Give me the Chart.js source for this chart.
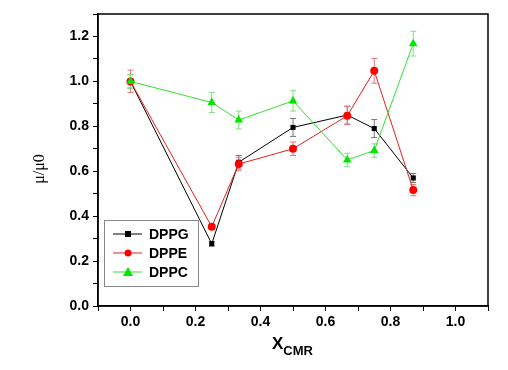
<!DOCTYPE html>
<html>
<head>
<meta charset="utf-8">
<script src="https://cdn.jsdelivr.net/npm/chart.js@4.4.1/dist/chart.umd.min.js"></script>
<style>
  html, body { margin: 0; padding: 0; background: #fff; }
  #wrap { width: 508px; height: 370px; }
</style>
</head>
<body>
<div id="wrap"><canvas id="chart" width="508" height="370"></canvas></div>
<script>
// x_CMR values
var xCmr = [0, 0.25, 0.333, 0.5, 0.667, 0.75, 0.87];

// mu/mu0 per lipid
var dppg = [1.0, 0.277, 0.64, 0.795, 0.85, 0.79, 0.57];
var dppe = [1.0, 0.353, 0.632, 0.70, 0.847, 1.047, 0.516];
var dppc = [1.0, 0.906, 0.828, 0.913, 0.65, 0.692, 1.168];

// error bars
var dppgErr = [0.03, 0.01, 0.03, 0.04, 0.04, 0.04, 0.02];
var dppeErr = [0.05, 0.01, 0.03, 0.03, 0.04, 0.055, 0.025];
var dppcErr = [0.03, 0.045, 0.04, 0.045, 0.03, 0.03, 0.055];

var seriesNames = ['DPPG', 'DPPE', 'DPPC'];

function pts(ys) {
    return xCmr.map(function(x, i) { return {x: x, y: ys[i]}; });
}

var errBars = {
    id: 'errBars',
    beforeDatasetsDraw: function(chart) {
        var ctx = chart.ctx;
        var xs = chart.scales.x, ys = chart.scales.y;
        chart.data.datasets.forEach(function(ds) {
            ctx.save();
            ctx.strokeStyle = ds.errColor;
            ctx.lineWidth = 1;
            ds.data.forEach(function(p, i) {
                var px = xs.getPixelForValue(p.x);
                var top = ys.getPixelForValue(p.y + ds.err[i]);
                var bot = ys.getPixelForValue(p.y - ds.err[i]);
                ctx.beginPath();
                ctx.moveTo(px, top); ctx.lineTo(px, bot);
                ctx.moveTo(px - 3, top); ctx.lineTo(px + 3, top);
                ctx.moveTo(px - 3, bot); ctx.lineTo(px + 3, bot);
                ctx.stroke();
            });
            ctx.restore();
        });
    }
};

var decor = {
    id: 'decor',
    afterDraw: function(chart) {
        var ctx = chart.ctx;
        var a = chart.chartArea;
        ctx.save();
        // frame
        ctx.strokeStyle = '#000';
        ctx.lineWidth = 1.5;
        ctx.strokeRect(a.left, a.top, a.right - a.left, a.bottom - a.top);

        // legend
        var lx = 104, ly = 220, lw = 94, lh = 66;
        ctx.fillStyle = '#fff';
        ctx.fillRect(lx, ly, lw, lh);
        ctx.strokeStyle = '#888';
        ctx.lineWidth = 1;
        ctx.strokeRect(lx + 0.5, ly + 0.5, lw, lh);
        ctx.font = 'bold 14px "Liberation Sans", Arial, sans-serif';
        ctx.textBaseline = 'middle';
        chart.data.datasets.forEach(function(ds, i) {
            var cy = ly + 14 + i * 19;
            ctx.strokeStyle = ds.borderColor;
            ctx.lineWidth = 1;
            ctx.beginPath();
            ctx.moveTo(lx + 9, cy); ctx.lineTo(lx + 38, cy);
            ctx.stroke();
            ctx.fillStyle = ds.pointBackgroundColor;
            var mx = lx + 24;
            if (ds.pointStyle === 'rect') {
                ctx.fillRect(mx - 3, cy - 3, 6, 6);
            } else if (ds.pointStyle === 'circle') {
                ctx.beginPath(); ctx.arc(mx, cy, 3.5, 0, Math.PI * 2); ctx.fill();
            } else {
                ctx.beginPath();
                ctx.moveTo(mx, cy - 5); ctx.lineTo(mx + 5, cy + 4); ctx.lineTo(mx - 5, cy + 4);
                ctx.closePath(); ctx.fill();
            }
            ctx.fillStyle = '#000';
            ctx.textAlign = 'left';
            ctx.fillText(ds.label, lx + 45, cy + 1);
        });

        // y title
        ctx.save();
        ctx.translate(40, 169);
        ctx.rotate(-Math.PI / 2);
        ctx.font = '16px "Liberation Serif", "Times New Roman", serif';
        ctx.textAlign = 'center';
        ctx.textBaseline = 'middle';
        ctx.fillStyle = '#000';
        ctx.fillText('\u03bc/\u03bc0', 0, 0);
        ctx.restore();

        // x title
        ctx.fillStyle = '#000';
        ctx.textAlign = 'left';
        ctx.textBaseline = 'alphabetic';
        ctx.font = 'bold 17px "Liberation Sans", Arial, sans-serif';
        ctx.fillText('X', 272, 349);
        var w = ctx.measureText('X').width;
        ctx.font = 'bold 13px "Liberation Sans", Arial, sans-serif';
        ctx.fillText('CMR', 272 + w, 355);
        ctx.restore();
    }
};

function tickLabel(v) {
    return Math.round(v * 10) % 2 === 0 ? v.toFixed(1) : '';
}

new Chart(document.getElementById('chart'), {
    type: 'scatter',
    data: {
        datasets: [{
            label: seriesNames[0],
            data: pts(dppg),
            err: dppgErr,
            errColor: '#777',
            showLine: true,
            borderColor: '#000',
            borderWidth: 1,
            pointStyle: 'rect',
            pointRadius: 3.6,
            pointBackgroundColor: '#000',
            pointBorderColor: '#000',
            pointBorderWidth: 0,
            order: 2
        }, {
            label: seriesNames[1],
            data: pts(dppe),
            err: dppeErr,
            errColor: '#e07a7a',
            showLine: true,
            borderColor: '#e8201c',
            borderWidth: 1,
            pointStyle: 'circle',
            pointRadius: 4,
            pointBackgroundColor: '#ff0000',
            pointBorderColor: '#ff0000',
            pointBorderWidth: 0,
            order: 1
        }, {
            label: seriesNames[2],
            data: pts(dppc),
            err: dppcErr,
            errColor: '#7ee07e',
            showLine: true,
            borderColor: '#33e033',
            borderWidth: 1,
            pointStyle: 'triangle',
            pointRadius: 5,
            pointBackgroundColor: '#00e600',
            pointBorderColor: '#00e600',
            pointBorderWidth: 0,
            order: 0
        }]
    },
    options: {
        responsive: false,
        animation: false,
        layout: { padding: { top: 14, right: 20, left: 0, bottom: 0 } },
        plugins: { legend: { display: false }, tooltip: { enabled: false } },
        scales: {
            x: {
                type: 'linear',
                min: -0.1,
                max: 1.1,
                afterFit: function(s) { s.height = 64; },
                border: { display: true, color: '#000', width: 1.5 },
                grid: { drawOnChartArea: false, drawTicks: true, tickLength: 5, color: '#000', lineWidth: 1 },
                ticks: {
                    stepSize: 0.1,
                    autoSkip: false,
                    maxRotation: 0,
                    padding: 3,
                    color: '#000',
                    font: { family: '"Liberation Sans", Arial, sans-serif', size: 14, weight: 'bold' },
                    callback: tickLabel
                }
            },
            y: {
                type: 'linear',
                min: 0,
                max: 1.3,
                afterFit: function(s) { s.width = 98; },
                border: { display: true, color: '#000', width: 1.5 },
                grid: { drawOnChartArea: false, drawTicks: true, tickLength: 5, color: '#000', lineWidth: 1 },
                ticks: {
                    stepSize: 0.1,
                    autoSkip: false,
                    padding: 4,
                    color: '#000',
                    font: { family: '"Liberation Sans", Arial, sans-serif', size: 14, weight: 'bold' },
                    callback: tickLabel
                }
            }
        }
    },
    plugins: [errBars, decor]
});
</script>
</body>
</html>
